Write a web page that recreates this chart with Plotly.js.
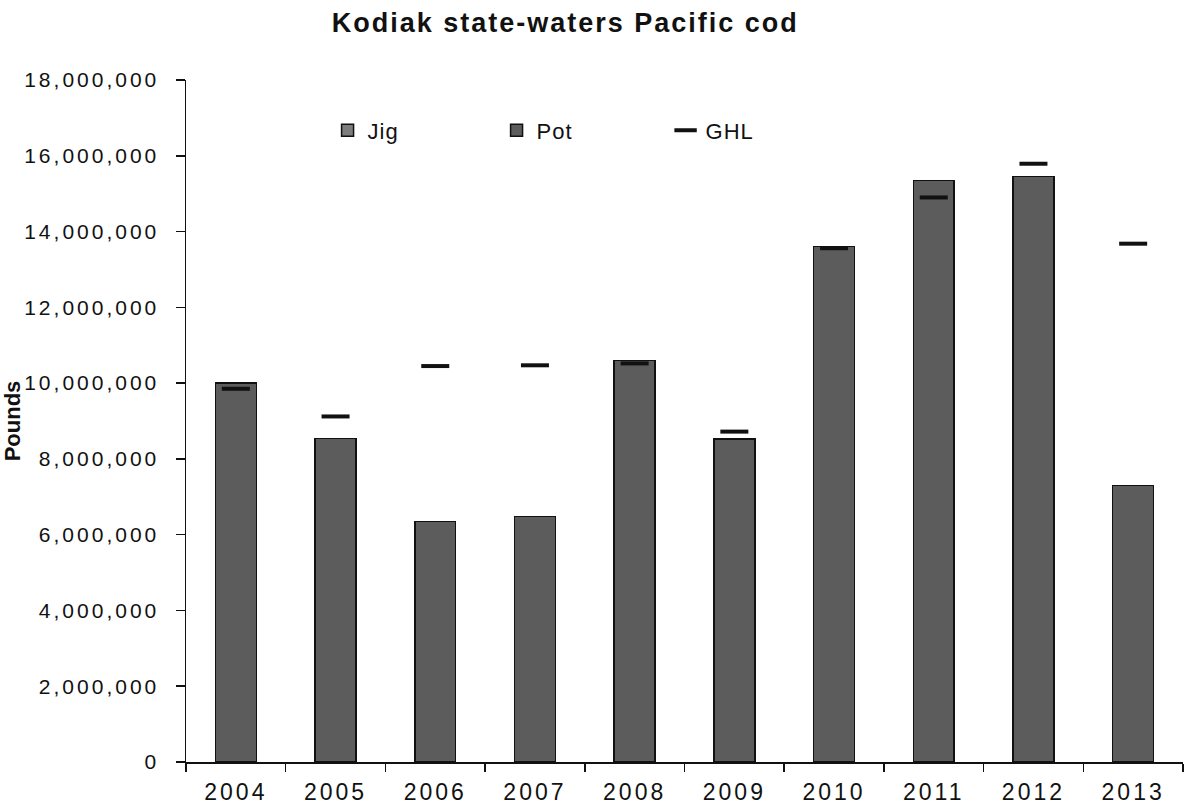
<!DOCTYPE html>
<html>
<head>
<meta charset="utf-8">
<script src="https://cdn.plot.ly/plotly-3.0.1.min.js"></script>
<style>
html,body{margin:0;padding:0;background:#fff;}
#chart{width:1185px;height:806px;}
.xtick text{letter-spacing:3px;}
.ytick text{letter-spacing:3px;}
.gtitle{letter-spacing:2px;}
.legendtext{letter-spacing:1px;}
</style>
</head>
<body>
<div id="chart"></div>
<script>
const years = ['2004','2005','2006','2007','2008','2009','2010','2011','2012','2013'];
const jig = [0,0,0,0,0,0,0,0,0,0];
const pot = [10000000,8540000,6350000,6480000,10600000,8530000,13600000,15350000,15450000,7300000];
const ghl = [9850000,9120000,10450000,10470000,10520000,8720000,13560000,14900000,15790000,13680000];
const yTicks = [0,2000000,4000000,6000000,8000000,10000000,12000000,14000000,16000000,18000000];
const yTickText = ['0','2,000,000','4,000,000','6,000,000','8,000,000','10,000,000','12,000,000','14,000,000','16,000,000','18,000,000'];

const font = 'Liberation Sans, Arial, sans-serif';

const traces = [
  {type:'bar', name:'Jig', x:years, y:jig,
   marker:{color:'#7d7d7d', line:{color:'#111', width:1.5}}},
  {type:'bar', name:'Pot', x:years, y:pot,
   marker:{color:'#5c5c5c', line:{color:'#111', width:1.5}}},
  {type:'scatter', mode:'markers', name:'GHL', x:years, y:ghl,
   marker:{symbol:'line-ew-open', size:20, color:'#111', line:{color:'#111', width:4}}}
];

const layout = {
  width:1185, height:806,
  paper_bgcolor:'#fff', plot_bgcolor:'#fff',
  margin:{l:186, r:2, t:80, b:44},
  barmode:'stack', bargap:0.59,
  font:{family:font, color:'#111', size:20},
  title:{text:'<b>Kodiak state-waters Pacific cod</b>', x:0.477, xanchor:'center', y:0.972, yanchor:'middle',
         font:{family:font, size:27, color:'#111'}},
  showlegend:true,
  legend:{orientation:'h', traceorder:'normal', x:0.142, xanchor:'left', y:0.957, yanchor:'top',
          entrywidth:124, entrywidthmode:'pixels', itemwidth:30,
          font:{family:font, size:22, color:'#111'}, bgcolor:'rgba(0,0,0,0)'},
  xaxis:{type:'category', range:[-0.5, 9.5], showgrid:false, showline:true, linecolor:'#111', linewidth:1.5,
         ticks:'outside', tickson:'boundaries', ticklen:8, tickcolor:'#111', tickwidth:1.5,
         ticklabelstandoff:9,
         tickfont:{family:font, size:23, color:'#111'}, zeroline:false},
  yaxis:{range:[0,18000000], showgrid:false, showline:true, linecolor:'#111', linewidth:1.5,
         ticks:'outside', ticklen:9, tickcolor:'#111', tickwidth:1.5,
         ticklabelstandoff:12,
         tickmode:'array', tickvals:yTicks, ticktext:yTickText,
         tickfont:{family:font, size:21, color:'#111'}, zeroline:false, automargin:false,
         title:{text:'<b>Pounds</b>', font:{family:font, size:22, color:'#111'}, standoff:0}}
};

Plotly.newPlot('chart', traces, layout, {displayModeBar:false, staticPlot:true});
</script>
</body>
</html>
